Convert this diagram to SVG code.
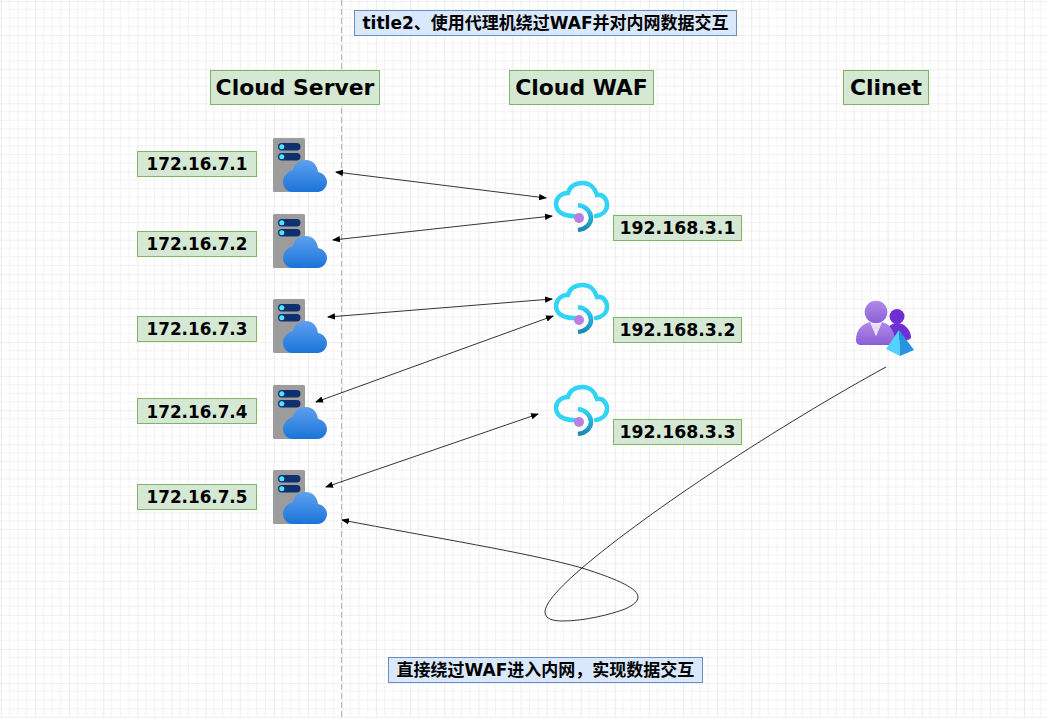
<svg xmlns="http://www.w3.org/2000/svg" width="1047" height="718" viewBox="0 0 1047 718">
<style>
text{font-family:"DejaVu Sans","Noto Sans CJK SC",sans-serif;font-weight:700;fill:#000;text-anchor:middle}
.g{fill:#d5e8d4;stroke:#82b366;stroke-width:1}
.b{fill:#dae8fc;stroke:#6c8ebf;stroke-width:1}
.ip{font-size:16.800px}
.ip2{font-size:17.300px}
.hd{font-size:21.900px}
.cap{font-size:17px}
.c{fill:none;stroke:#000;stroke-width:.8}
</style>
<defs>
<pattern id="grid" x="1" y="1" width="34.1" height="34.1" patternUnits="userSpaceOnUse">
<path d="M8.5 0V34.1M17 0V34.1M25.6 0V34.1M0 8.5H34.1M0 17H34.1M0 25.6H34.1" fill="none" stroke="#f2f2f2" stroke-width="1"/>
<path d="M0 0V34.1M0 0H34.1" fill="none" stroke="#dfdfdf" stroke-width="1.2"/>
</pattern>
<marker id="a" viewBox="0 0 8 8" refX="7" refY="4" markerWidth="8" markerHeight="8" orient="auto-start-reverse" markerUnits="userSpaceOnUse"><path d="M0 .8L8 4L0 7.2z" fill="#000"/></marker>
<linearGradient id="cl" x1="0" y1="0" x2="0" y2="1"><stop offset="0" stop-color="#5ea0ef"/><stop offset="1" stop-color="#1b74d8"/></linearGradient>
<linearGradient id="pu" x1="0" y1="0" x2="0" y2="1"><stop offset="0" stop-color="#b28ae8"/><stop offset="1" stop-color="#8a5fd6"/></linearGradient>
<linearGradient id="arc" x1="0" y1="0" x2="0" y2="1"><stop offset="0" stop-color="#32d4f5"/><stop offset="1" stop-color="#198ab3"/></linearGradient>
<g id="srv">
<rect x="0" y="0" width="32" height="54" rx="1.5" fill="#9c9c9c"/>
<rect x="5" y="5" width="22.500" height="7.500" rx="3.700" fill="#0f2f6e"/>
<rect x="5" y="15" width="22.500" height="7.500" rx="3.700" fill="#0f2f6e"/>
<circle cx="8.800" cy="8.800" r="2.500" fill="#50e6ff"/>
<circle cx="8.800" cy="18.800" r="2.500" fill="#50e6ff"/>
<path d="M20 54C14 54 10 49 10 44C10 38 15 33 20 32C21 26 26 22 33 22C40 22 44 27 45 34C50 35 54 39 54 44C54 50 49 54 45 54Z" fill="url(#cl)"/>
</g>
<g id="waf">
<path d="M20 36C10 36 2 32 2 24C2 17 8 13 14 13C16 6 22 3 29 3C36 3 41 8 43 15C49 14 53 19 53 25C53 31 48 35 42 36" fill="none" stroke="#32d4f5" stroke-width="4.500" stroke-linecap="round"/>
<path d="M24 25C32 26 37 32 37 38C37 44 32 49 24 50" fill="none" stroke="url(#arc)" stroke-width="4.500"/>
<circle cx="25" cy="38" r="5" fill="#b77fe0"/>
</g>
</defs>
<rect width="1047" height="718" fill="#fff"/>
<rect width="1047" height="718" fill="url(#grid)"/>
<line x1="341.500" y1="0" x2="341.500" y2="718" stroke="#b8b8b8" stroke-dasharray="6 3" stroke-width="1"/>
<g id="connectors">
<path class="c" d="M336 172L546 198" marker-start="url(#a)" marker-end="url(#a)"/>
<path class="c" d="M333 240L552 216" marker-start="url(#a)" marker-end="url(#a)"/>
<path class="c" d="M328 317L552 299" marker-start="url(#a)" marker-end="url(#a)"/>
<path class="c" d="M316 402L553 316" marker-start="url(#a)" marker-end="url(#a)"/>
<path class="c" d="M326 487L538 414" marker-start="url(#a)" marker-end="url(#a)"/>
<path class="c" d="M886 367C780 425 650 510 582 568C560 587 545 603 545 612C545 619 553 621 563 621C585 621 612 614 625 609C634 605 638 601 638 597C638 589 620 580 582 568C530 553 430 537 342 520" marker-end="url(#a)"/>
</g>
<g id="title"><rect class="b" x="354.500" y="10.500" width="382" height="25"/><text class="cap" x="545.500" y="29">title2、使用代理机绕过WAF并对内网数据交互</text></g>
<g id="caption"><rect class="b" x="388.500" y="657.500" width="314" height="25"/><text class="cap" x="545.500" y="676">直接绕过WAF进入内网，实现数据交互</text></g>
<g id="h-server"><rect class="g" x="210.500" y="70.500" width="169" height="34"/><text class="hd" x="295" y="95">Cloud Server</text></g>
<g id="h-waf"><rect class="g" x="509.500" y="70.500" width="144" height="34"/><text class="hd" x="581.500" y="95">Cloud WAF</text></g>
<g id="h-client"><rect class="g" x="843.500" y="70.500" width="85" height="34"/><text class="hd" x="886" y="95">Clinet</text></g>
<g id="srv1"><use href="#srv" x="273" y="138"/><rect class="g" x="137.500" y="151.500" width="119" height="25"/><text class="ip" x="197" y="170">172.16.7.1</text></g>
<g id="srv2"><use href="#srv" x="273" y="214"/><rect class="g" x="137.500" y="231.500" width="119" height="25"/><text class="ip" x="197" y="250">172.16.7.2</text></g>
<g id="srv3"><use href="#srv" x="273" y="299"/><rect class="g" x="137.500" y="316.500" width="119" height="25"/><text class="ip" x="197" y="335">172.16.7.3</text></g>
<g id="srv4"><use href="#srv" x="273" y="385"/><rect class="g" x="137.500" y="398.500" width="119" height="25"/><text class="ip" x="197" y="418">172.16.7.4</text></g>
<g id="srv5"><use href="#srv" x="273" y="470"/><rect class="g" x="137.500" y="484.500" width="119" height="25"/><text class="ip" x="197" y="503">172.16.7.5</text></g>
<g id="waf1"><use href="#waf" x="554" y="180"/><rect class="g" x="613.500" y="215.500" width="128" height="25"/><text class="ip2" x="677.500" y="234">192.168.3.1</text></g>
<g id="waf2"><use href="#waf" x="554" y="282"/><rect class="g" x="613.500" y="317.500" width="128" height="25"/><text class="ip2" x="677.500" y="336">192.168.3.2</text></g>
<g id="waf3"><use href="#waf" x="554" y="384"/><rect class="g" x="613.500" y="419.500" width="128" height="25"/><text class="ip2" x="677.500" y="438">192.168.3.3</text></g>
<g id="client">
<circle cx="897" cy="316.500" r="7.500" fill="#6f2fd4"/>
<path d="M884 337C886 328 891 323 897 323C905 323 911 331 911 337C911 339 909 340 907 340H884Z" fill="#6f2fd4"/>
<circle cx="876" cy="312" r="11.300" fill="url(#pu)"/>
<path d="M856 340C856 330 862 324 870 322L876 336L882 322C890 324 896 332 895 345H861C858 345 856 343 856 340Z" fill="url(#pu)"/>
<path d="M871 324H881L876 336Z" fill="#e6dcf7"/>
<path d="M899 330L886 349L900 356Z" fill="#50d4ff"/>
<path d="M899 330L900 356L914 350Z" fill="#2a93e0"/>
</g>
</svg>
